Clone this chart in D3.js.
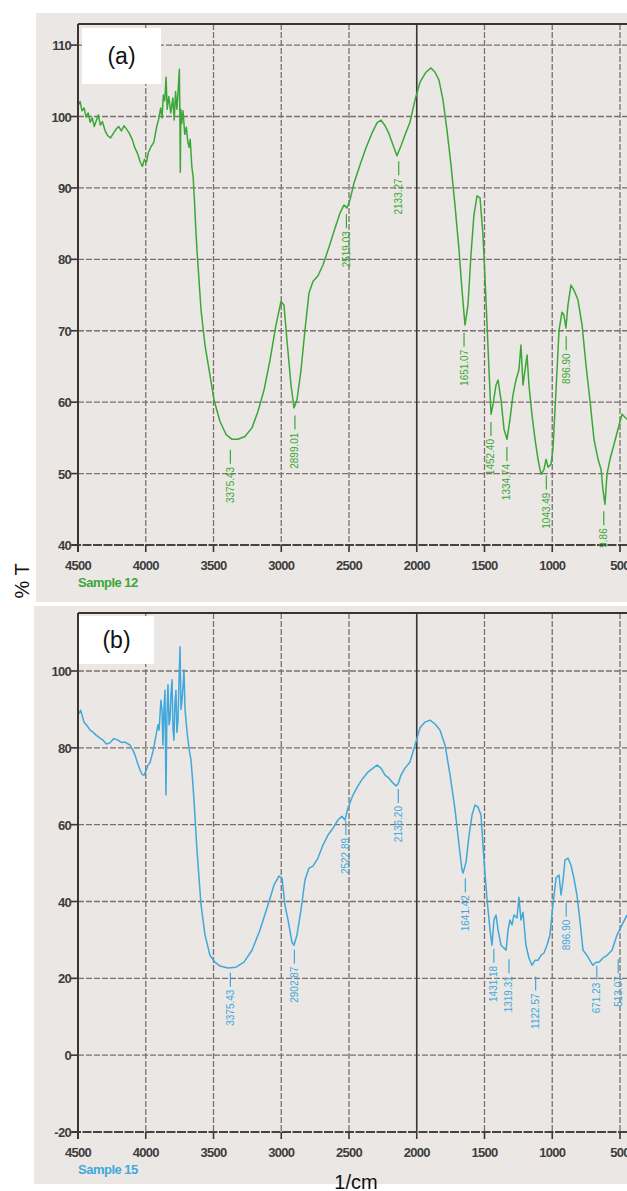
<!DOCTYPE html>
<html>
<head>
<meta charset="utf-8">
<script src="https://cdn.jsdelivr.net/npm/d3@7"></script>
<style>
  body { margin: 0; background: #fff; }
  svg { display: block; font-family: "Liberation Sans", Arial, sans-serif; }
</style>
</head>
<body>
<svg id="chart" width="627" height="1191"></svg>
<script>
// wavenumber ticks shared by both panels
var xTicks = [4500, 4000, 3500, 3000, 2500, 2000, 1500, 1000, 500]
var yTicksA = [40, 50, 60, 70, 80, 90, 100, 110]
var yTicksB = [-20, 0, 20, 40, 60, 80, 100]

// Sample 12, [wavenumber 1/cm, %T]
var sample12 = [
  [4500,101.5],[4485,102.1],[4470,100.8],[4455,101.2],[4440,99.9],[4425,100.5],[4410,99.2],
  [4395,99.8],[4380,98.6],[4365,99.4],[4350,100.2],[4335,98.8],[4320,99.3],[4300,98.0],
  [4280,97.3],[4260,97.0],[4240,97.6],[4220,98.2],[4200,98.6],[4180,98.0],[4160,98.7],
  [4140,98.2],[4120,97.6],[4100,96.8],[4080,95.6],[4060,94.8],[4040,93.6],[4025,93.0],
  [4010,94.0],[3995,93.6],[3980,95.0],[3960,95.8],[3940,96.4],[3920,98.5],[3905,99.6],
  [3890,101.2],[3880,99.8],[3870,103.0],[3860,102.2],[3850,105.5],[3842,101.0],[3830,102.8],
  [3815,100.5],[3800,102.6],[3790,99.5],[3780,103.5],[3770,101.0],[3760,104.0],[3752,106.6],
  [3748,100.0],[3745,92.2],[3741,101.0],[3735,99.0],[3725,100.8],[3712,97.5],[3700,98.5],
  [3690,96.5],[3680,95.7],[3672,96.8],[3660,93.0],[3650,91.5],[3640,88.0],[3630,84.0],
  [3622,81.3],[3592,72.9],[3563,68.0],[3526,63.8],[3496,60.3],[3452,57.3],[3408,55.5],
  [3363,54.8],[3319,54.8],[3268,55.2],[3216,56.4],[3172,58.7],[3127,61.7],[3083,65.9],
  [3039,70.8],[3002,74.1],[2980,73.6],[2958,68.7],[2928,62.4],[2906,59.2],[2884,60.3],
  [2854,64.5],[2825,70.1],[2795,75.3],[2766,76.9],[2729,77.7],[2692,79.2],[2648,81.7],
  [2603,84.4],[2566,86.5],[2537,87.6],[2515,87.2],[2493,88.3],[2463,90.7],[2419,93.2],
  [2375,95.6],[2330,97.7],[2293,99.1],[2264,99.5],[2234,98.7],[2205,97.6],[2175,96.0],
  [2146,94.5],[2116,95.9],[2087,97.4],[2050,99.2],[2013,102.3],[1976,104.8],[1932,106.2],
  [1895,106.8],[1865,106.2],[1836,105.1],[1806,102.3],[1777,98.1],[1747,93.2],[1718,87.6],
  [1688,81.3],[1666,75.7],[1644,70.8],[1622,73.6],[1600,80.6],[1578,86.2],[1555,88.9],
  [1533,88.6],[1511,83.4],[1489,74.3],[1467,64.5],[1452,58.3],[1437,59.7],[1415,62.4],
  [1400,63.1],[1378,60.3],[1356,56.2],[1334,54.8],[1312,57.6],[1290,61.0],[1268,63.1],
  [1246,64.5],[1231,68.0],[1216,62.4],[1201,64.5],[1186,66.6],[1172,62.4],[1150,58.3],
  [1127,54.8],[1105,52.0],[1083,49.9],[1061,50.6],[1046,52.0],[1031,50.9],[1009,51.3],
  [995,53.4],[972,61.7],[950,70.1],[928,72.6],[914,72.2],[899,70.4],[884,73.6],[862,76.4],
  [840,75.7],[810,74.3],[780,70.8],[751,65.2],[722,60.3],[692,54.8],[662,52.0],[640,50.6],
  [626,47.8],[611,45.7],[596,49.9],[574,52.0],[544,54.1],[515,56.2],[485,58.3],[448,57.6]
]

// Sample 15
var sample15 = [
  [4500,88.5],[4480,89.8],[4456,86.7],[4430,85.6],[4411,84.6],[4390,84.1],[4367,83.3],
  [4340,82.6],[4315,82.0],[4290,81.0],[4264,81.3],[4235,82.4],[4205,82.0],[4180,81.4],
  [4153,81.5],[4130,81.0],[4116,80.7],[4095,79.4],[4079,78.1],[4060,76.0],[4042,74.2],
  [4025,73.0],[4013,72.9],[3998,74.0],[3983,75.5],[3968,76.2],[3954,78.1],[3940,80.2],
  [3924,83.3],[3910,86.0],[3902,84.6],[3888,92.4],[3880,89.8],[3873,80.7],[3865,90.5],
  [3858,95.0],[3851,67.7],[3844,88.0],[3836,96.4],[3828,86.0],[3821,87.2],[3814,94.0],
  [3806,97.7],[3799,85.0],[3792,82.0],[3784,92.0],[3777,95.0],[3770,84.0],[3762,87.2],
  [3754,98.0],[3747,106.3],[3740,90.0],[3732,92.4],[3725,96.0],[3718,100.3],[3710,90.0],
  [3703,87.2],[3695,84.0],[3688,82.0],[3677,79.0],[3666,76.8],[3655,72.0],[3644,66.4],
  [3622,53.4],[3592,39.1],[3563,31.3],[3526,26.0],[3489,24.2],[3452,23.2],[3393,22.7],
  [3334,22.9],[3275,24.2],[3216,27.3],[3157,32.6],[3098,39.1],[3053,44.3],[3017,46.6],
  [2994,46.1],[2973,39.1],[2950,35.2],[2921,29.4],[2906,28.6],[2884,31.3],[2854,37.8],
  [2825,45.6],[2795,48.7],[2766,49.2],[2729,51.3],[2692,54.7],[2655,57.3],[2618,59.1],
  [2582,61.2],[2552,62.2],[2530,61.2],[2508,64.3],[2471,67.7],[2434,70.1],[2397,72.1],
  [2360,73.7],[2323,74.7],[2293,75.5],[2264,74.7],[2234,72.9],[2205,72.1],[2175,70.8],
  [2153,70.1],[2138,70.6],[2116,72.9],[2087,74.7],[2050,76.3],[2013,80.7],[1976,85.2],
  [1939,86.7],[1902,87.2],[1865,86.2],[1828,84.6],[1791,80.7],[1754,72.9],[1717,63.8],
  [1688,54.7],[1666,48.2],[1658,47.4],[1636,50.3],[1614,57.3],[1592,62.5],[1570,65.1],
  [1548,64.6],[1526,62.5],[1504,50.8],[1481,40.4],[1459,32.6],[1445,28.6],[1430,35.2],
  [1415,36.5],[1400,32.6],[1378,28.6],[1356,27.9],[1341,27.3],[1326,32.6],[1312,35.2],
  [1297,33.9],[1282,36.5],[1260,35.7],[1246,41.1],[1231,35.2],[1216,37.2],[1194,28.6],
  [1172,25.3],[1150,23.4],[1127,24.7],[1105,24.7],[1083,26.0],[1061,26.6],[1039,28.6],
  [1017,31.3],[995,39.1],[972,46.1],[950,46.9],[935,41.7],[920,45.6],[906,50.8],[884,51.3],
  [862,49.5],[840,46.1],[818,41.7],[796,35.2],[773,27.3],[744,26.0],[722,24.7],[700,23.4],
  [677,24.2],[655,24.2],[626,25.3],[596,26.0],[559,27.3],[522,31.3],[485,33.9],[448,36.5]
]

// peak markers: [wavenumber, label, %T where the marker line starts]
var peaks12 = [
  [3375.43, "3375.43", 53.6], [2899.01, "2899.01", 58.4], [2519.03, "2519.03", 86.6],
  [2133.27, "2133.27", 94.0], [1651.07, "1651.07", 70.0], [1452.40, "1452.40", 57.5],
  [1334.74, "1334.74", 54.0], [1043.49, "1043.49", 50.0], [896.90, "896.90", 69.5],
  [619.86, "619.86", 45.0]
]
var peaks15 = [
  [3375.43, "3375.43", 22.0], [2902.87, "2902.87", 28.0], [2522.89, "2522.89", 61.5],
  [2136.20, "2136.20", 69.8], [1641.42, "1641.42", 46.6], [1431.18, "1431.18", 28.2],
  [1319.31, "1319.31", 25.5], [1122.57, "1122.57", 21.0], [896.90, "896.90", 40.2],
  [671.23, "671.23", 23.8], [513.07, "513.07", 25.5]
]

var svg = d3.select("#chart")
var x = d3.scaleLinear().domain([4500, 500]).range([78, 620])

function drawPanel(opt) {
  var g = svg.append("g")
  var y = d3.scaleLinear().domain(opt.yDomain).range(opt.yRange)
  var top = opt.frameTop, bottom = opt.yRange[0]

  g.append("rect").attr("x", opt.bg[0]).attr("y", opt.bg[1])
    .attr("width", opt.bg[2]).attr("height", opt.bg[3]).attr("fill", "#ebe7e4")

  // grid
  g.selectAll(".hg").data(opt.yTicks.slice(1)).join("line")
    .attr("x1", 78).attr("x2", 627).attr("y1", y).attr("y2", y)
    .attr("stroke", "#7a716d").attr("stroke-width", 1.3).attr("stroke-dasharray", "6,2")
  g.selectAll(".vg").data(xTicks.slice(1)).join("line")
    .attr("x1", x).attr("x2", x).attr("y1", top).attr("y2", bottom)
    .attr("stroke", d => d == 2000 ? "#3c3432" : "#7a716d")
    .attr("stroke-width", d => d == 2000 ? 1.6 : 1.3)
    .attr("stroke-dasharray", d => d == 2000 ? null : "6,2")

  // label box
  g.append("rect").attr("x", opt.box[0]).attr("y", opt.box[1])
    .attr("width", opt.box[2]).attr("height", opt.box[3]).attr("fill", "#fff")
  g.append("text").attr("x", opt.box[0] + opt.box[2] / 2).attr("y", opt.box[1] + opt.box[3] / 2 + 8)
    .attr("text-anchor", "middle").attr("font-size", 23).attr("fill", "#111").text(opt.tag)

  // frame
  g.append("line").attr("x1", 78).attr("x2", 627).attr("y1", top).attr("y2", top)
    .attr("stroke", "#3c3432").attr("stroke-width", 2)
  g.append("line").attr("x1", 78).attr("x2", 78).attr("y1", top).attr("y2", bottom + 7)
    .attr("stroke", "#3c3432").attr("stroke-width", 2)
  g.append("line").attr("x1", 72).attr("x2", 627).attr("y1", bottom).attr("y2", bottom)
    .attr("stroke", "#4a4240").attr("stroke-width", 2.2).attr("stroke-dasharray", "9,1.5")

  // ticks + labels
  g.selectAll(".yt").data(opt.yTicks).join("line")
    .attr("x1", 71).attr("x2", 78).attr("y1", y).attr("y2", y)
    .attr("stroke", "#3c3432").attr("stroke-width", 1.6)
  g.selectAll(".yl").data(opt.yTicks).join("text")
    .attr("x", 71).attr("y", d => y(d) + 5).attr("text-anchor", "end")
    .attr("font-size", 13).attr("font-weight", "bold").attr("letter-spacing", -0.7)
    .attr("fill", "#3d3d3d").text(d => d)
  g.selectAll(".xt").data(xTicks).join("line")
    .attr("x1", x).attr("x2", x).attr("y1", bottom).attr("y2", bottom + 7)
    .attr("stroke", "#3c3432").attr("stroke-width", 1.6)
  g.selectAll(".xl").data(xTicks).join("text")
    .attr("x", x).attr("y", bottom + 25).attr("text-anchor", "middle")
    .attr("font-size", 13).attr("font-weight", "bold").attr("letter-spacing", -0.7)
    .attr("fill", "#3d3d3d").text(d => d)
  g.append("text").attr("x", 78).attr("y", bottom + 42)
    .attr("font-size", 13).attr("font-weight", "bold").attr("letter-spacing", -0.5)
    .attr("fill", opt.color).text(opt.name)

  // trace + peak markers, clipped to the plot
  svg.append("clipPath").attr("id", opt.id).append("rect")
    .attr("x", 79).attr("y", top + 1).attr("width", 560).attr("height", bottom - top + 2)
  var p = g.append("g").attr("clip-path", "url(#" + opt.id + ")")
  p.append("path").datum(opt.data)
    .attr("d", d3.line().x(d => x(d[0])).y(d => y(d[1])))
    .attr("fill", "none").attr("stroke", opt.color).attr("stroke-width", 1.5)
    .attr("stroke-linejoin", "round")
  var pk = p.selectAll(".pk").data(opt.peaks).join("g")
    .attr("transform", d => "translate(" + x(d[0]) + "," + y(d[2]) + ")")
  pk.append("line").attr("x1", 0).attr("x2", 0).attr("y1", 2).attr("y2", 16)
    .attr("stroke", opt.color).attr("stroke-width", 1.2)
  pk.append("text").attr("transform", "translate(3.5,19) rotate(-90)")
    .attr("text-anchor", "end").attr("font-size", 10).attr("fill", opt.color)
    .text(d => d[1])
}

drawPanel({ id: "clipA", tag: "(a)", name: "Sample 12", color: "#3aa836",
  data: sample12, peaks: peaks12, yTicks: yTicksA,
  yDomain: [40, 100], yRange: [545, 116.5], frameTop: 24,
  bg: [36, 13, 591, 589], box: [82, 28, 79, 56] })

drawPanel({ id: "clipB", tag: "(b)", name: "Sample 15", color: "#40a8dc",
  data: sample15, peaks: peaks15, yTicks: yTicksB,
  yDomain: [-20, 100], yRange: [1132, 671], frameTop: 613,
  bg: [34, 606, 593, 578], box: [79, 616, 75, 48] })

svg.append("text").attr("transform", "translate(29,581) rotate(-90)")
  .attr("text-anchor", "middle").attr("font-size", 20).attr("fill", "#111").text("% T")
svg.append("text").attr("x", 356).attr("y", 1189)
  .attr("text-anchor", "middle").attr("font-size", 20).attr("fill", "#111").text("1/cm")
</script>
</body>
</html>
